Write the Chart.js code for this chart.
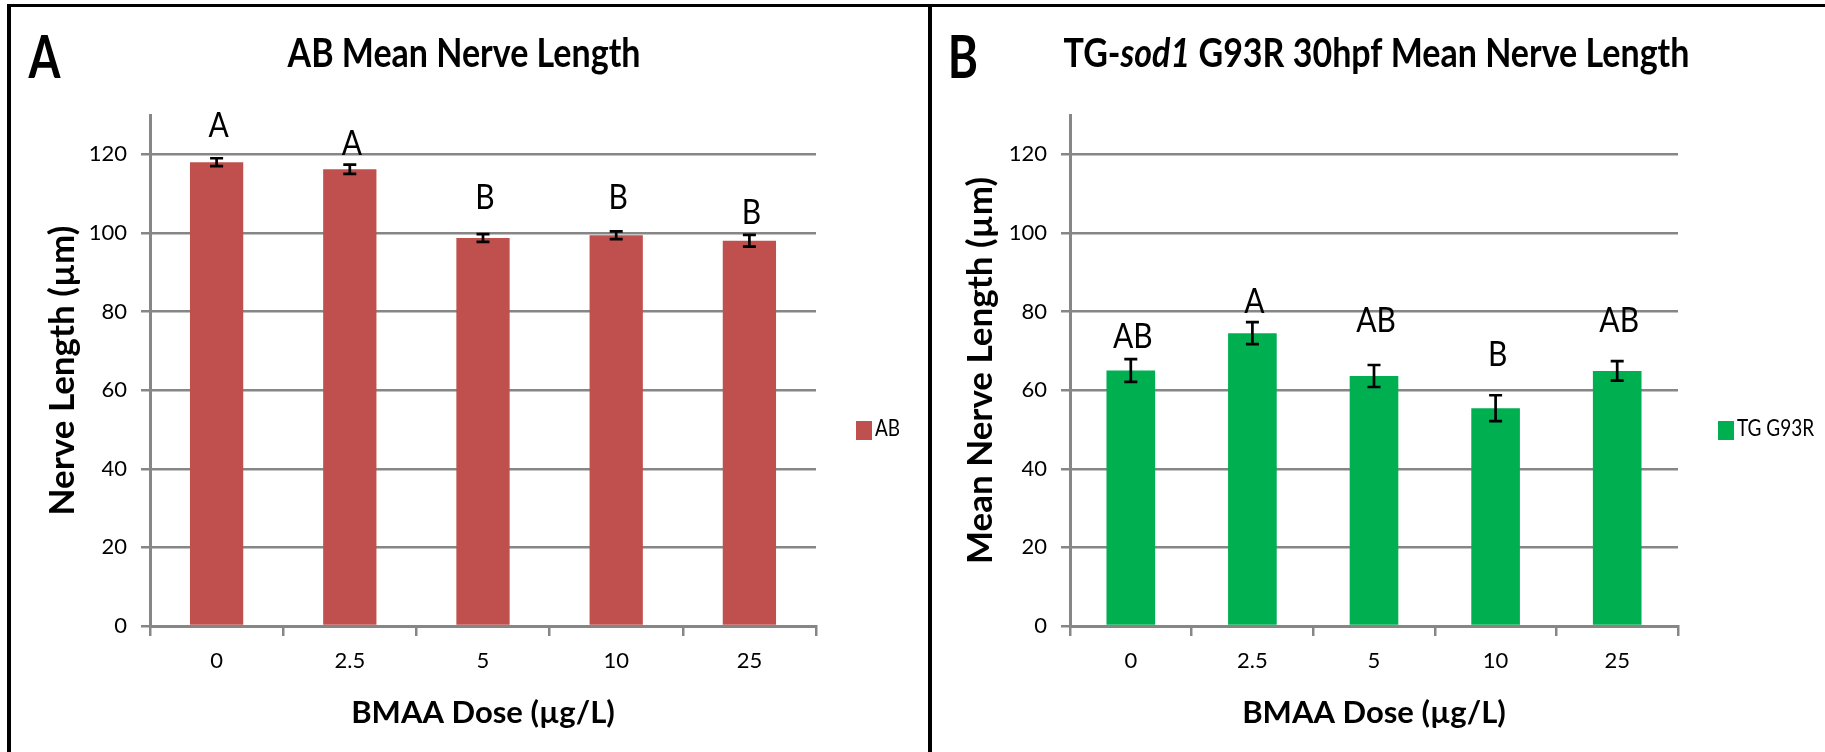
<!DOCTYPE html>
<html><head><meta charset="utf-8">
<script src="https://cdn.jsdelivr.net/npm/chart.js@4.4.1/dist/chart.umd.min.js"></script>
<style>
html,body{margin:0;padding:0;background:#fff;}
body{width:1825px;height:752px;position:relative;overflow:hidden;}
#c1{position:absolute;left:0;top:0;}
#c2{position:absolute;left:928px;top:0;}
.frame{position:absolute;left:7px;top:4px;width:2000px;height:800px;border-left:4px solid #000;border-top:3px solid #000;pointer-events:none;}
.divider{position:absolute;left:928px;top:4px;width:4px;height:760px;background:#000;pointer-events:none;}
</style></head><body>
<canvas id="c1" width="928" height="752"></canvas>
<canvas id="c2" width="897" height="752"></canvas>
<div class="frame"></div><div class="divider"></div>
<script>
// ---- data ----
const doseLabels = ['0', '2.5', '5', '10', '25'];
const abMeans = [118.0, 116.2, 98.7, 99.4, 98.0];
const abErrors = [1.0, 1.2, 1.0, 1.0, 1.5];
const abLetters = ['A', 'A', 'B', 'B', 'B'];
const abLetterLevels = [127.6, 123.0, 109.3, 109.3, 105.5];
const tgMeans = [65.0, 74.5, 63.6, 55.4, 64.9];
const tgErrors = [2.9, 2.8, 2.8, 3.3, 2.5];
const tgLetters = ['AB', 'A', 'AB', 'B', 'AB'];
const tgLetterLevels = [74.0, 82.8, 77.9, 69.4, 77.9];
const yTickValues = [0, 20, 40, 60, 80, 100, 120];
const abTitleParts = [['AB Mean Nerve Length', false]];
const tgTitleParts = [['TG-', false], ['sod1', true], [' G93R 30hpf Mean Nerve Length', false]];
const xAxisTitle = 'BMAA Dose (µg/L)';
const abYTitle = 'Nerve Length (µm)';
const tgYTitle = 'Mean Nerve Length (µm)';

const FONT = 'Lato, "Open Sans", "DejaVu Sans", sans-serif';
const GRID = '#868686';

function stretchText(ctx, text, x, capCenterY, size, weight, sy, align, style) {
  ctx.save();
  ctx.font = (style || 'normal') + ' ' + weight + ' ' + size + 'px ' + FONT;
  ctx.textAlign = align;
  ctx.textBaseline = 'alphabetic';
  ctx.translate(x, capCenterY);
  ctx.scale(1, sy);
  ctx.fillText(text, 0, 0.36 * size);
  ctx.restore();
}

const annotPlugin = {
  id: 'annot',
  afterDatasetsDraw(chart, args, o) {
    const {ctx, scales: {x, y}} = chart;
    const ds = chart.data.datasets[0];
    ctx.save();
    ctx.strokeStyle = '#000';
    ctx.lineWidth = 2.7;
    o.errors.forEach((e, i) => {
      const cx = x.getPixelForValue(i);
      const yt = y.getPixelForValue(ds.data[i] + e);
      const yb = y.getPixelForValue(ds.data[i] - e);
      ctx.beginPath();
      ctx.moveTo(cx, yt); ctx.lineTo(cx, yb);
      ctx.moveTo(cx - 6.5, yt); ctx.lineTo(cx + 6.5, yt);
      ctx.moveTo(cx - 6.5, yb); ctx.lineTo(cx + 6.5, yb);
      ctx.stroke();
    });
    ctx.fillStyle = '#000';
    o.letters.forEach((t, i) => {
      stretchText(ctx, t, x.getPixelForValue(i) + 2, y.getPixelForValue(o.levels[i]), 30, 'normal', 1.15, 'center');
    });
    ctx.restore();
  },
  afterDraw(chart, args, o) {
    const {ctx, chartArea: ca} = chart;
    ctx.save();
    ctx.fillStyle = '#000';
    // chart title (mixed italic) centred on the chart object
    const size = 34;
    let total = 0;
    const widths = o.titleParts.map(([t, it]) => {
      ctx.font = (it ? 'italic' : 'normal') + ' bold ' + size + 'px ' + FONT;
      const w = ctx.measureText(t).width; total += w; return w;
    });
    let tx = chart.width / 2 - total / 2;
    o.titleParts.forEach(([t, it], i) => {
      stretchText(ctx, t, tx, 52.5, size, 'bold', 1.15, 'left', it ? 'italic' : 'normal');
      tx += widths[i];
    });
    // panel letter
    stretchText(ctx, o.panel, o.panelX, 56.5, 46, 'bold', 1.3, 'center');
    // legend
    const ds = chart.data.datasets[0];
    const lx = ca.right + 40;
    const lcy = (ca.top + ca.bottom) / 2 + 60;
    ctx.fillStyle = ds.backgroundColor;
    ctx.fillRect(lx, lcy - 9.5, 16, 19);
    ctx.fillStyle = '#000';
    stretchText(ctx, ds.label, lx + 19, lcy - 3, 19, 'normal', 1.2, 'left');
    ctx.restore();
  }
};

function makeChart(id, means, errors, letters, levels, color, label, yTitle, titleParts, panel, cfg) {
  return new Chart(document.getElementById(id), {
    type: 'bar',
    data: {
      labels: doseLabels,
      datasets: [{label: label, data: means, backgroundColor: color, borderWidth: 0,
                  categoryPercentage: 1.0, barPercentage: 0.4}]
    },
    options: {
      responsive: false, animation: false, devicePixelRatio: 1,
      layout: {padding: {left: 0, top: 115, right: cfg.padRight, bottom: 0}},
      plugins: {
        legend: {display: false}, title: {display: false}, tooltip: {enabled: false},
        annot: {errors: errors, letters: letters, levels: levels, titleParts: titleParts,
                panel: panel, panelX: cfg.panelX}
      },
      scales: {
        x: {
          grid: {display: true, drawOnChartArea: false, drawTicks: true, tickLength: 10,
                 color: GRID, lineWidth: 2.5, offset: true},
          border: {display: true, color: GRID, width: 3},
          ticks: {font: {family: FONT, size: 22}, color: '#000', padding: 12,
                  maxRotation: 0, autoSkip: false},
          title: {display: true, text: xAxisTitle, color: '#000',
                  font: {family: FONT, size: 31, weight: 'bold'},
                  padding: {top: 0, bottom: 20}},
          afterFit: s => { s.height = 126; }
        },
        y: {
          min: 0, max: 130,
          afterBuildTicks: s => { s.ticks = yTickValues.map(v => ({value: v})); },
          grid: {color: GRID, lineWidth: 2.5, tickLength: 9, drawTicks: true},
          border: {display: true, color: GRID, width: 3},
          ticks: {font: {family: FONT, size: 22}, color: '#000', padding: 14},
          title: {display: true, text: yTitle, color: '#000',
                  font: {family: FONT, size: 35, weight: 'bold'},
                  padding: {top: cfg.yTitlePad, bottom: 0}},
          afterFit: s => { s.width = cfg.yWidth; }
        }
      }
    },
    plugins: [annotPlugin]
  });
}

makeChart('c1', abMeans, abErrors, abLetters, abLetterLevels, '#C0504D', 'AB', abYTitle,
          abTitleParts, 'A', {padRight: 112, yWidth: 150, yTitlePad: 42, panelX: 44.5});
makeChart('c2', tgMeans, tgErrors, tgLetters, tgLetterLevels, '#00B050', 'TG G93R', tgYTitle,
          tgTitleParts, 'B', {padRight: 147, yWidth: 142, yTitlePad: 32, panelX: 35});
</script>
</body></html>
